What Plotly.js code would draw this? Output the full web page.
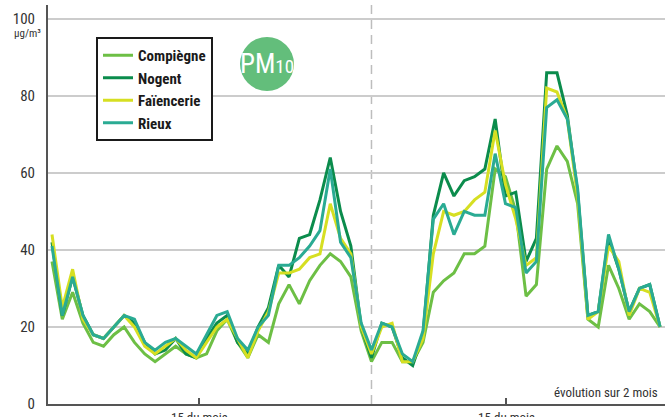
<!DOCTYPE html>
<html>
<head>
<meta charset="utf-8">
<script src="https://cdn.plot.ly/plotly-3.0.1.min.js"></script>
<style>html,body{margin:0;padding:0;background:#fff;}#chart{width:667px;height:417px;}</style>
</head>
<body>
<div id="chart"></div>
<script>
// ---- data (µg/m³, daily PM10 over 2 months) ----
const days = Array.from({length: 60}, (_, i) => i);
const compiegne = [37,22,29,21,16,15,18,20,16,13,11,13,15,13,12,13,19,22,16,12,18,16,26,31,26,32,36,39,37,33,19,11,16,16,11,11,16,29,32,34,39,39,41,61,59,50,28,31,61,67,63,52,22,20,36,30,22,26,24,20];
const nogent    = [42,23,33,23,18,17,20,23,21,16,13,14,17,13,12,17,21,23,16,13,20,25,36,33,43,44,53,64,50,41,20,12,21,20,12,10,18,49,60,54,58,59,61,74,54,55,37,43,86,86,75,55,23,24,43,35,24,30,31,20];
const faiencerie= [44,25,35,22,18,17,20,23,20,15,13,15,17,14,12,16,20,22,17,12,19,24,34,34,35,38,39,52,43,39,20,13,20,21,11,11,17,39,50,49,50,53,55,71,57,48,36,38,82,81,74,54,22,24,41,37,23,30,29,20];
const rieux     = [41,23,33,23,18,17,20,23,22,16,14,16,17,15,13,18,23,24,17,14,20,23,36,36,38,41,45,61,42,38,21,14,21,20,13,11,19,48,52,44,50,49,49,65,52,51,34,37,77,79,74,56,23,24,44,35,24,30,31,20];
const seriesNames = ["Compiègne", "Nogent", "Faïencerie", "Rieux"];
const yTicks = [0, 20, 40, 60, 80, 100];
const xTickPositions = [14.3, 44.1];
const xTickLabels = ["15 du mois", "15 du mois"];
const monthBoundary = 31;

const colors = ["#6dbf45", "#0b8c4c", "#d6df22", "#2aab93"];
const FAM = "'Roboto Condensed', 'DejaVu Sans Condensed', 'DejaVu Sans', sans-serif";
const f = (size, color, weight) => ({family: FAM, size: size, color: color, weight: weight || "normal", stretch: "condensed"});

const values = [compiegne, nogent, faiencerie, rieux];
const traces = values.map((v, k) => ({
  type: "scatter", mode: "lines", x: days, y: v, name: seriesNames[k],
  line: {color: colors[k], width: 3}
}));

const W = 667, H = 417, L = 48, R = 2, T = 5, B = 13;
const pw = W - L - R, ph = H - T - B;
const px = xp => (xp - L) / pw;
const py = yp => (H - B - yp) / ph;

const layout = {
  width: W, height: H,
  margin: {l: L, r: R, t: T, b: B},
  paper_bgcolor: "#fff", plot_bgcolor: "#fff",
  font: f(12, "#333"),
  showlegend: true,
  legend: {
    x: px(96), y: py(37), xanchor: "left", yanchor: "top",
    bgcolor: "#fff", bordercolor: "#1a1a1a", borderwidth: 2,
    font: f(15, "#1a1a1a", "bold"),
    tracegroupgap: 0, itemwidth: 30
  },
  xaxis: {
    range: [-0.388, 59.48], showgrid: false, zeroline: false,
    showline: true, linecolor: "#555", linewidth: 2,
    ticks: "inside", ticklen: 6, tickwidth: 2, tickcolor: "#555",
    tickvals: xTickPositions, ticktext: xTickLabels,
    tickfont: f(13, "#333")
  },
  yaxis: {
    range: [0, 103.6], tickvals: yTicks, showgrid: true,
    gridcolor: "#cccccc", gridwidth: 1.5, zeroline: false,
    showline: true, linecolor: "#555", linewidth: 2, ticks: "",
    ticklabelstandoff: 8,
    tickfont: f(15, "#333")
  },
  shapes: [
    {type: "rect", xref: "paper", yref: "paper", layer: "between",
     x0: px(88), x1: px(224), y0: py(140), y1: py(30),
     fillcolor: "#fff", line: {width: 0}},
    {type: "line", xref: "x", yref: "paper", x0: monthBoundary, x1: monthBoundary, y0: 0, y1: 1,
     layer: "below", line: {color: "#bdbdbd", width: 1.5, dash: "9px,6px"}},
    {type: "circle", xref: "paper", yref: "paper", xsizemode: "pixel", ysizemode: "pixel",
     xanchor: px(267), yanchor: py(64), x0: -27, x1: 27, y0: -27, y1: 27,
     fillcolor: "#63be7b", line: {width: 0}}
  ],
  annotations: [
    {xref: "paper", yref: "paper", x: px(267), y: py(64), xanchor: "center", yanchor: "middle",
     showarrow: false, text: "PM<span style='font-size:19px'>10</span>",
     font: f(27, "#fff", "normal")},
    {xref: "paper", yref: "paper", x: px(43), y: py(33), xanchor: "right", yanchor: "middle",
     showarrow: false, text: "µg/m³", font: f(11, "#333")},
    {xref: "paper", yref: "paper", x: px(660), y: py(392), xanchor: "right", yanchor: "middle",
     showarrow: false, text: "évolution sur 2 mois", font: f(13, "#333")}
  ]
};

Plotly.newPlot("chart", traces, layout, {displayModeBar: false, staticPlot: true});
</script>
</body>
</html>
